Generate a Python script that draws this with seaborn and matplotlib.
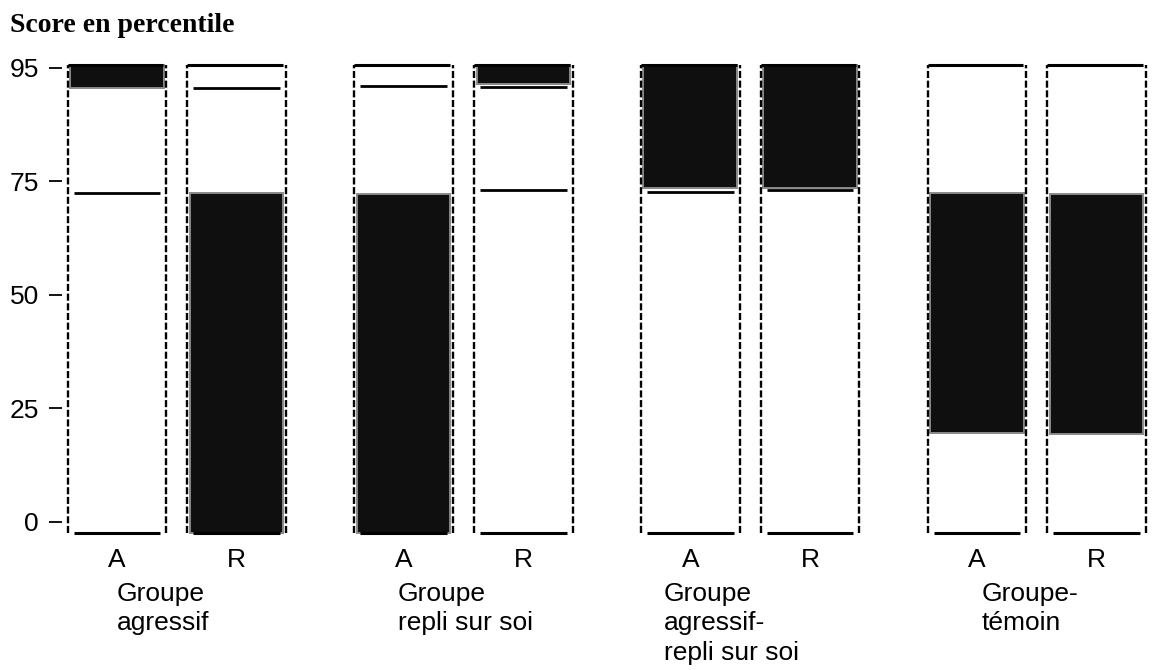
import numpy as np
import matplotlib
matplotlib.use("Agg")
import matplotlib.pyplot as plt
import matplotlib.transforms as mtransforms
import seaborn as sns

# ---------------- data ----------------
title = "Score en percentile"
groups = ["Groupe\nagressif", "Groupe\nrepli sur soi",
          "Groupe\nagressif-\nrepli sur soi", "Groupe-\ntémoin"]
subscales = ["A", "R"]
ytick_values = [0, 25, 50, 75, 95]
ytick_labels = ["0", "25", "50", "75", "95"]

frame_bottom = -2.5
frame_top = 95.5

# shaded band per column (agr A, agr R, repli A, repli R, agr-repli A, agr-repli R, temoin A, temoin R)
band_low = [91.5, -2.5, -2.5, 92.2, 73.5, 73.5, 19.5, 19.3]
band_high = [95.5, 72.5, 72.3, 95.5, 95.5, 95.5, 72.5, 72.3]
# extra solid reference lines per column
mid_lines = [[72.4], [91.5], [91.8], [91.6, 73.1], [72.6], [73.0], [], []]

# ---------------- style ----------------
sns.set_theme(style="white")
plt.rcParams["font.family"] = ["Liberation Sans", "DejaVu Sans"]


def fwd(v):
    v = np.asarray(v, dtype=float)
    return np.where(v <= 75, v, 75 + (v - 75) * 1.25)


def inv(u):
    u = np.asarray(u, dtype=float)
    return np.where(u <= 75, u, 75 + (u - 75) / 1.25)


W, H = 1153, 670
fig = plt.figure(figsize=(W / 100, H / 100), dpi=100)
ax = fig.add_axes([62 / W, (H - 540) / H, (1150 - 62) / W, (540 - 62) / H])
ax.set_yscale("function", functions=(fwd, inv))

group_step = 2.91
pair_step = 1.215
col_x = [g * group_step + k * pair_step for g in range(len(groups)) for k in range(len(subscales))]
col_lab = [s for g in groups for s in subscales]

for i, c in enumerate(col_x):
    # shaded band
    ax.bar(c, band_high[i] - band_low[i], bottom=band_low[i], width=0.95,
           color="#0f0f0f", edgecolor="#8a8a8a", linewidth=1.4, zorder=2)
    # dashed frame sides
    ax.vlines([c - 0.5, c + 0.5], frame_bottom, frame_top, colors="black",
              linestyles=(0, (3, 1.1)), linewidth=1.7, zorder=3)
    # solid top and bottom lines
    ax.hlines(frame_top, c - 0.5, c + 0.47, colors="black", linewidth=2.2, zorder=4)
    ax.hlines(frame_bottom, c - 0.44, c + 0.44, colors="black", linewidth=2.2, zorder=4)
    for v in mid_lines[i]:
        ax.hlines(v, c - 0.44, c + 0.44, colors="black", linewidth=2.0, zorder=4)

ax.set_xlim(-0.558, 10.487)
ax.set_ylim(-4.03, 96.04)

for s in ax.spines.values():
    s.set_visible(False)

ax.set_yticks(ytick_values)
ax.set_yticklabels(ytick_labels)
ax.yaxis.set_minor_locator(matplotlib.ticker.NullLocator())
ax.tick_params(axis="y", left=True, direction="out", length=9.5, width=1.3,
               pad=7, labelsize=19, colors="black")
ax.set_xticks(col_x)
ax.set_xticklabels(col_lab)
ax.tick_params(axis="x", bottom=True, length=0, pad=6, labelsize=19, colors="black")
ax.grid(False)

# group labels
trans = mtransforms.blended_transform_factory(ax.transData, fig.transFigure)
offsets = [0.0, -0.06, -0.27, 0.05]
for g, name in enumerate(groups):
    ax.text(col_x[2 * g] + offsets[g], (H - 582) / H, name, transform=trans,
            ha="left", va="top", fontsize=19, color="black", linespacing=1.28)

fig.text(10 / W, (H - 32) / H, title, ha="left", va="baseline",
         fontsize=20, fontweight="bold", family=["Liberation Serif", "DejaVu Serif"],
         color="black")

fig.savefig("out.png", dpi=100, facecolor="white")
